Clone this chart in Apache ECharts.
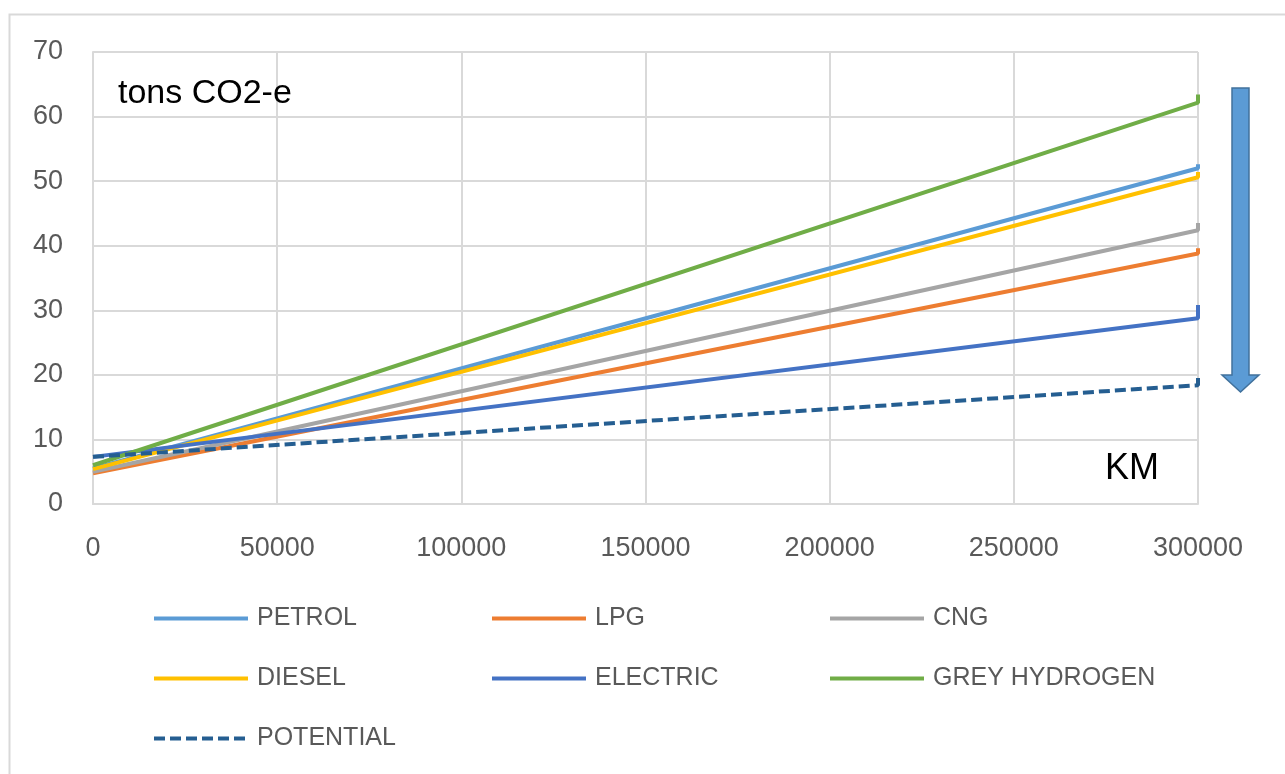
<!DOCTYPE html>
<html>
<head>
<meta charset="utf-8">
<script src="https://cdn.jsdelivr.net/npm/echarts@6/dist/echarts.min.js"></script>
<style>html,body{margin:0;padding:0;background:#fff}#chart{width:1285px;height:774px}</style>
</head>
<body>
<div id="chart"></div>
<script>
// Distance travelled (km); the repeated last point reproduces the small end tick of each line
var km = [0, 300000, 300000];
var seriesNames = ['PETROL', 'LPG', 'CNG', 'DIESEL', 'ELECTRIC', 'GREY HYDROGEN', 'POTENTIAL'];
var petrol = [5.5, 52.0, 52.6];
var lpg = [4.75, 38.8, 39.6];
var cng = [5.0, 42.4, 43.5];
var diesel = [5.4, 50.6, 51.4];
var electric = [7.3, 28.75, 30.8];
var greyHydrogen = [6.0, 62.15, 63.4];
var potential = [7.3, 18.4, 19.5];
var yTicks = [0, 10, 20, 30, 40, 50, 60, 70];
var xTicks = [0, 50000, 100000, 150000, 200000, 250000, 300000];

var values = [petrol, lpg, cng, diesel, electric, greyHydrogen, potential];
var colors = ['#5b9bd5', '#ed7d31', '#a5a5a5', '#ffc000', '#4472c4', '#70ad47', '#255e91'];
var FONT = '"Liberation Sans", Arial, sans-serif';

var chart = echarts.init(document.getElementById('chart'), null, {renderer: 'canvas'});

var series = seriesNames.map(function (name, i) {
  return {
    name: name,
    type: 'line',
    symbol: 'none',
    showSymbol: false,
    animation: false,
    data: km.map(function (x, j) { return [x, values[i][j]]; }),
    lineStyle: {
      color: colors[i],
      width: 4,
      type: i === 6 ? [11, 5] : 'solid',
      cap: 'butt'
    },
    itemStyle: {color: colors[i]},
    z: 2 + i
  };
});

var colX = [152, 490, 828];
var rowY = [606, 666, 726];
var legends = seriesNames.map(function (name, i) {
  return {
    data: [name],
    left: colX[i % 3],
    top: rowY[Math.floor(i / 3)],
    padding: 0,
    itemWidth: 94,
    itemHeight: 14,
    selectedMode: false,
    itemStyle: {opacity: 0},
    lineStyle: {width: 4},
    textStyle: {color: '#595959', fontSize: 25, fontFamily: FONT, padding: [0, 0, 0, 4]}
  };
});

chart.setOption({
  backgroundColor: '#ffffff',
  animation: false,
  grid: {left: 93, right: 87, top: 52, bottom: 270, containLabel: false},
  legend: legends,
  xAxis: {
    type: 'value',
    min: xTicks[0],
    max: xTicks[xTicks.length - 1],
    interval: xTicks[1] - xTicks[0],
    axisLine: {show: true, lineStyle: {color: '#d9d9d9', width: 2}},
    axisTick: {show: false},
    splitLine: {show: true, lineStyle: {color: '#d9d9d9', width: 2}},
    axisLabel: {color: '#595959', fontSize: 27, fontFamily: FONT, margin: 31,
      formatter: function (v) { return String(v); }}
  },
  yAxis: {
    type: 'value',
    min: yTicks[0],
    max: yTicks[yTicks.length - 1],
    interval: yTicks[1] - yTicks[0],
    axisLine: {show: true, lineStyle: {color: '#d9d9d9', width: 2}},
    axisTick: {show: false},
    splitLine: {show: true, lineStyle: {color: '#d9d9d9', width: 2}},
    axisLabel: {color: '#595959', fontSize: 27, fontFamily: FONT, margin: 30}
  },
  graphic: [
    {type: 'rect', left: 7, top: 12, z: -1, silent: true,
      shape: {x: 0, y: 0, width: 1277, height: 775},
      style: {fill: 'none', stroke: '#d9d9d9', lineWidth: 2}},
    {type: 'text', left: 118, top: 77, z: 20,
      style: {text: 'tons CO2-e', fill: '#000000', fontSize: 34, fontFamily: FONT}},
    {type: 'text', left: 1105, top: 451, z: 20,
      style: {text: 'KM', fill: '#000000', fontSize: 36, fontFamily: FONT}},
    {type: 'polygon', z: 20,
      shape: {points: [[1232, 88], [1249, 88], [1249, 375], [1259, 375], [1240.5, 392], [1222, 375], [1232, 375]]},
      style: {fill: '#5b9bd5', stroke: '#41719c', lineWidth: 1.5}}
  ],
  series: series
});
</script>
</body>
</html>
